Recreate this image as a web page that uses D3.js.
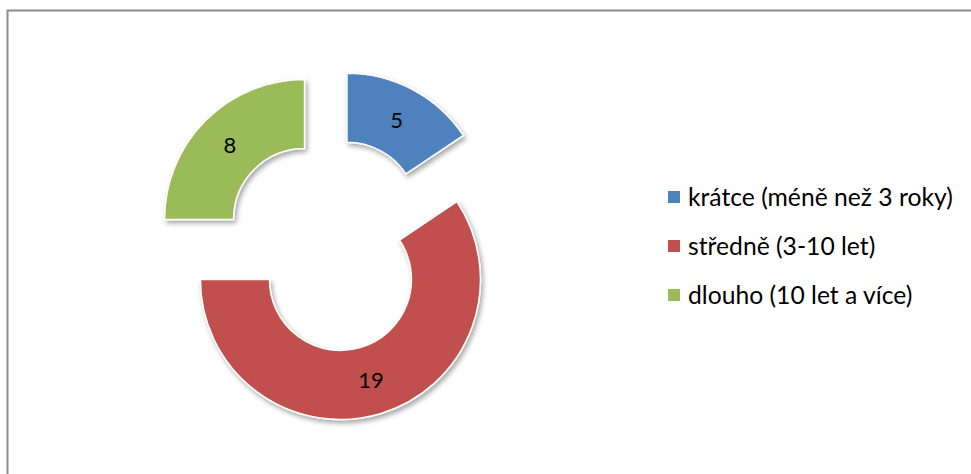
<!DOCTYPE html>
<html><head><meta charset="utf-8">
<script src="https://cdn.jsdelivr.net/npm/d3@7"></script>
<style>body{margin:0;background:#fff;} svg{display:block;}</style>
</head><body>
<script>
const categories = ["krátce (méně než 3 roky)", "středně (3-10 let)", "dlouho (10 let a více)"];
const values = [5, 19, 8];
const colors = ["#4f81bd", "#c0504d", "#9bbb59"];

const W = 971, H = 474;
const svg = d3.select("body").append("svg").attr("width", W).attr("height", H);
const font = "Lato, 'Open Sans', sans-serif";

// frame (extends beyond right/bottom)
svg.append("rect").attr("x", 7.5).attr("y", 10.5).attr("width", 1000).attr("height", 600)
  .attr("fill", "#fff").attr("stroke", "#8c8c8c").attr("stroke-width", 2);

const defs = svg.append("defs");
const f = defs.append("filter").attr("id", "sh").attr("x", "-20%").attr("y", "-20%").attr("width", "140%").attr("height", "140%");
f.append("feDropShadow").attr("dx", 2).attr("dy", 3).attr("stdDeviation", 2.5).attr("flood-color", "#000").attr("flood-opacity", 0.35);

const cx = 330, cy = 245, R = 140, r = 71, explode = 36;
const pie = d3.pie().sort(null).value(d => d)(values);
const arc = d3.arc().innerRadius(r).outerRadius(R);
const g = svg.append("g").attr("transform", `translate(${cx},${cy})`);

pie.forEach((p, i) => {
  const mid = (p.startAngle + p.endAngle) / 2;
  const dx = Math.sin(mid) * explode, dy = -Math.cos(mid) * explode;
  const sg = g.append("g").attr("transform", `translate(${dx},${dy})`);
  sg.append("path").attr("d", arc(p)).attr("fill", colors[i])
    .attr("stroke", "#fff").attr("stroke-width", 1.5).attr("filter", "url(#sh)");
  const c = arc.centroid(p);
  sg.append("text").attr("x", c[0]).attr("y", c[1]).attr("dy", "0.36em")
    .attr("text-anchor", "middle").attr("font-family", font).attr("font-size", 22)
    .attr("fill", "#000").text(values[i]);
});

// legend
const lg = svg.append("g");
const rows = [197, 246, 295];
categories.forEach((c, i) => {
  lg.append("rect").attr("x", 668).attr("y", rows[i] - 6).attr("width", 12).attr("height", 12).attr("fill", colors[i]);
  lg.append("text").attr("x", 688).attr("y", rows[i]).attr("dy", "0.36em")
    .attr("font-family", font).attr("font-size", 19).attr("fill", "#000").text(c);
});
// fit first legend width to ~265px
const t0 = lg.select("text").node();
const w0 = t0.getComputedTextLength();
const fs = 19 * 265 / w0;
lg.selectAll("text").attr("font-size", fs);
</script>
</body></html>
